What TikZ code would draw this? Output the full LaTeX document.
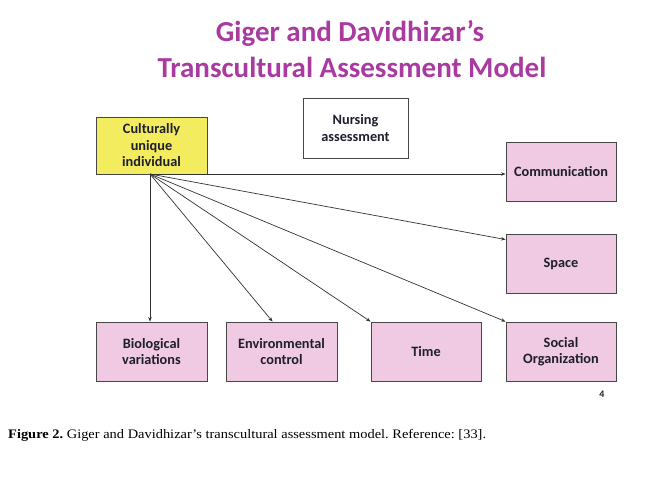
\documentclass[tikz,border=0pt]{standalone}
\usepackage{fontspec}
\setmainfont{Liberation Serif}
\newfontfamily\capfont[FakeStretch=1.11]{Liberation Serif}
\newfontfamily\carlito{Carlito}
\usetikzlibrary{arrows.meta,calc}
\definecolor{titlepurple}{RGB}{168,58,160}
\definecolor{boxpink}{RGB}{239,202,226}
\definecolor{boxyellow}{RGB}{243,236,94}
\definecolor{boxedge}{RGB}{70,70,70}
\definecolor{linegray}{RGB}{50,50,50}
\definecolor{boxtext}{RGB}{30,30,45}
\tikzset{
  modelbox/.style={draw=boxedge, line width=0.9pt, minimum width=110pt, minimum height=59pt,
    inner sep=0pt, align=center, text=boxtext,
    font=\carlito\bfseries\fontsize{14.3}{16.5}\selectfont},
  pinkbox/.style={modelbox, fill=boxpink},
  link/.style={draw=linegray, line width=0.7pt, -{Stealth[length=4.5pt,width=3.5pt]}},
  titletext/.style={text=titlepurple, font=\carlito\bfseries\fontsize{29}{33}\selectfont, inner sep=0pt, anchor=base}
}
\begin{document}
\frenchspacing
\begin{tikzpicture}[x=1pt,y=-1pt]
\useasboundingbox (0,0) rectangle (656,485);
\node[titletext] (t1) at (350,41) {Giger and Davidhizar’s};
\node[titletext] (t2) at (352,77) {Transcultural Assessment Model};

\node[modelbox, fill=boxyellow, minimum width=111pt, minimum height=57pt] (cul) at (151.5,145.5) {Culturally\\unique\\individual};
\node[modelbox, fill=white, minimum width=105pt, minimum height=60pt] (nur) at (355.5,128) {Nursing\\assessment};
\node[pinkbox] (com) at (561,171.5) {Communication};
\node[pinkbox] (spa) at (561,263.5) {Space};
\node[pinkbox, minimum width=111pt] (bio) at (151.5,351.5) {Biological\\variations};
\node[pinkbox, minimum width=111pt] (env) at (281.5,351.5) {Environmental\\control};
\node[pinkbox] (tim) at (426,351.5) {Time};
\node[pinkbox] (soc) at (561,351.5) {Social\\Organization};

\coordinate (src) at (150,174);
\coordinate (envin) at ($(env.north west)!0.42!(env.north east)$);
\coordinate (spain) at ($(spa.north west)!0.1!(spa.south west)$);
\draw[link] (src) -- (src -| com.west);
\draw[link] (src) -- (spain);
\draw[link] (src) -- (soc.north west);
\draw[link] (src) -- (tim.north west);
\draw[link] (src) -- (envin);
\draw[link] (src) -- (src |- bio.north);

\node[anchor=base, inner sep=0pt, font=\carlito\bfseries\fontsize{10}{12}\selectfont, text=boxtext] (pg) at (602,397) {4};
\node[anchor=base west, inner sep=0pt, font=\capfont\fontsize{13}{15}\selectfont] (cap) at (8,438) {\textbf{Figure 2.} Giger and Davidhizar’s transcultural assessment model. Reference: [33].};
\end{tikzpicture}
\end{document}
